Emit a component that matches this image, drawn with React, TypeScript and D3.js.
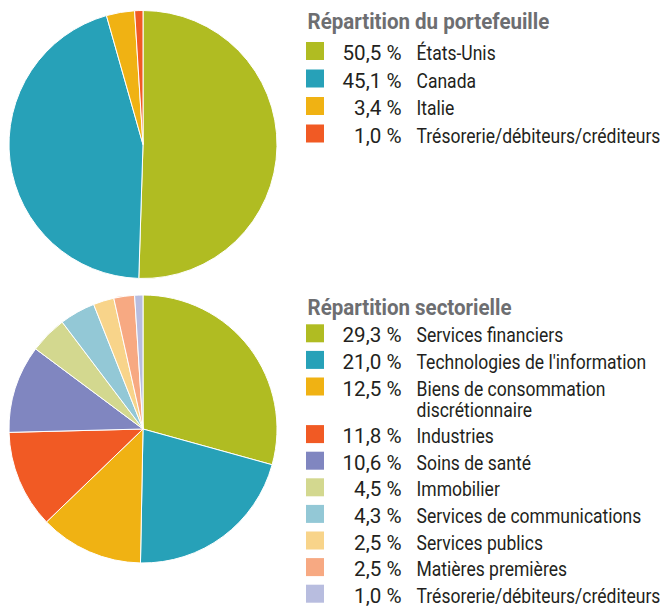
import React, { useEffect, useRef } from "react";
import * as d3 from "d3";

const portfolioLabels = ["États-Unis", "Canada", "Italie", "Trésorerie/débiteurs/créditeurs"];
const portfolioValues = [50.5, 45.1, 3.4, 1.0];
const portfolioColors = ["#B0BC22", "#27A1B8", "#F0B213", "#F15A24"];

const sectorLabels = [
  ["Services financiers"],
  ["Technologies de l'information"],
  ["Biens de consommation", "discrétionnaire"],
  ["Industries"],
  ["Soins de santé"],
  ["Immobilier"],
  ["Services de communications"],
  ["Services publics"],
  ["Matières premières"],
  ["Trésorerie/débiteurs/créditeurs"],
];
const sectorValues = [29.3, 21.0, 12.5, 11.8, 10.6, 4.5, 4.3, 2.5, 2.5, 1.0];
const sectorColors = [
  "#B0BC22", "#27A1B8", "#F0B213", "#F15A24", "#8086C0",
  "#D3D88F", "#93C8D6", "#F8D48A", "#F7A982", "#B8BDDF",
];

const titles = ["Répartition du portefeuille", "Répartition sectorielle"];

const FONT = "Roboto, 'Open Sans', sans-serif";

function fmt(v: number) {
  return v.toFixed(1).replace(".", ",") + " %";
}

export default function App() {
  const ref = useRef<SVGSVGElement>(null);

  useEffect(() => {
    document.body.style.margin = "0";
    const svg = d3.select(ref.current);
    svg.selectAll("*").remove();

    // measure condensation factors
    const probe = svg.append("text").attr("font-family", FONT).attr("font-size", 20);
    const measure = (s: string) => {
      probe.text(s);
      return (probe.node() as SVGTextElement).getComputedTextLength();
    };
    const kBody = 244 / measure("Trésorerie/débiteurs/créditeurs");
    const kVal = 59 / measure("50,5 %");
    probe.attr("font-weight", "bold").attr("font-size", 22);
    const kTitle = 242 / measure("Répartition du portefeuille");
    probe.remove();

    const pie = d3.pie<number>().sort(null).value((d) => d);
    const arc = d3.arc<d3.PieArcDatum<number>>().innerRadius(0).outerRadius(134);

    const drawPie = (cx: number, cy: number, values: number[], colors: string[]) => {
      const g = svg.append("g").attr("transform", `translate(${cx},${cy})`);
      g.selectAll("path")
        .data(pie(values))
        .join("path")
        .attr("d", arc as any)
        .attr("fill", (_, i) => colors[i])
        .attr("stroke", "#fff")
        .attr("stroke-width", 1);
    };

    drawPie(143, 144.5, portfolioValues, portfolioColors);
    drawPie(143, 429, sectorValues, sectorColors);

    const addText = (
      g: any, x: number, y: number, txt: string, k: number,
      opts: { size: number; bold?: boolean; fill: string; anchor?: string }
    ) => {
      g.append("text")
        .attr("transform", `translate(${x},${y}) scale(${k},1)`)
        .attr("text-anchor", opts.anchor || "start")
        .attr("font-family", FONT)
        .attr("font-weight", opts.bold ? "bold" : "normal")
        .attr("font-size", opts.size)
        .attr("fill", opts.fill)
        .text(txt);
    };

    const drawLegend = (
      titleY: number,
      firstY: number,
      step: number,
      wrapStep: number,
      title: string,
      values: number[],
      labels: string[][],
      colors: string[]
    ) => {
      const g = svg.append("g");
      addText(g, 307.5, titleY, title, kTitle, { size: 22, bold: true, fill: "#6D6E71" });
      let y = firstY;
      values.forEach((v, i) => {
        g.append("rect")
          .attr("x", 306)
          .attr("y", y - 18)
          .attr("width", 18)
          .attr("height", 18)
          .attr("fill", colors[i]);
        addText(g, 401.5, y, fmt(v), kVal, { size: 20, fill: "#231F20", anchor: "end" });
        labels[i].forEach((l, j) => {
          addText(g, 416.5, y + j * wrapStep, l, kBody, { size: 20, fill: "#231F20" });
        });
        y += step + (labels[i].length - 1) * wrapStep;
      });
    };

    drawLegend(29.3, 60, 27.5, 21, titles[0], portfolioValues, portfolioLabels.map((l) => [l]), portfolioColors);
    drawLegend(315, 342.3, 26.6, 21, titles[1], sectorValues, sectorLabels, sectorColors);
  }, []);

  return <svg ref={ref} width={664} height={606} style={{ display: "block" }} />;
}
